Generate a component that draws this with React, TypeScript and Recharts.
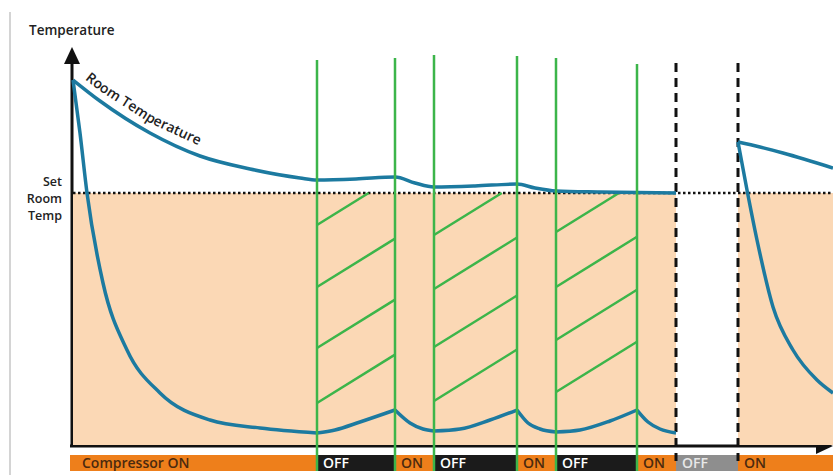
import React from "react";
import {
  ComposedChart,
  Line,
  XAxis,
  YAxis,
  ReferenceArea,
  ReferenceLine,
  Customized,
} from "recharts";

const W = 833;
const H = 475;
// 10 px per unit on both axes; t = 0 / v = 0 is the diagram origin
const X_DOMAIN: [number, number] = [-7.3, 76];
const Y_DOMAIN: [number, number] = [-3.2, 44.3];

const SET_TEMP = 25;
const AXIS_V = -0.2;
const BAR_TOP = -1.2;
const BAR_BOTTOM = -2.8;

// compressor timeline
const phaseStarts = [-0.3, 24.4, 32.2, 36.1, 44.4, 48.3, 56.4, 60.3, 66.5];
const phaseEnds = [24.4, 32.2, 36.1, 44.4, 48.3, 56.4, 60.3, 66.5, 76];
const phaseLabels = ["Compressor ON", "OFF", "ON", "OFF", "ON", "OFF", "ON", "OFF", "ON"];
const phaseKinds = ["on", "off", "on", "off", "on", "off", "on", "stop", "on"];

const switchTimes = [24.4, 32.2, 36.1, 44.4, 48.3, 56.4];
const switchTops = [38.3, 38.5, 38.8, 38.7, 38.5, 37.9];

const offStarts = [24.4, 36.1, 48.3];
const offEnds = [32.2, 44.4, 56.4];
const hatchStarts = [
  [21.8, 15.6, 9.5, 4.0],
  [20.8, 15.4, 9.6, 4.2],
  [21.1, 15.6, 10.3, 5.1],
];
const HATCH_SLOPE = 0.62;

const standbyStart = 60.3;
const standbyEnd = 66.5;
const dashedTop = 38.0;

// room temperature
const roomT = [0, 2.7, 7.7, 12.7, 17.7, 22.7, 24.4, 28.3, 32.2, 34.2, 36.1, 40.2, 44.4, 46.2, 48.3, 52.7, 60.3];
const roomV = [36.3, 34.2, 31.0, 28.7, 27.4, 26.5, 26.3, 26.4, 26.6, 26.0, 25.6, 25.7, 25.9, 25.5, 25.2, 25.1, 25.0];
const roomT2 = [66.5, 68.7, 71.0, 76];
const roomV2 = [30.1, 29.6, 29.0, 27.5];

// supply air temperature, one segment per compressor phase
const supplyT = [
  [0, 0.7, 1.4, 3.0, 5.4, 8.7, 13.7, 18.7, 24.4],
  [24.4, 26.2, 28.7, 32.2],
  [32.2, 33.7, 35.0, 36.1],
  [36.1, 38.7, 41.7, 44.4],
  [44.4, 45.5, 46.7, 48.3],
  [48.3, 50.7, 53.7, 56.4],
  [56.4, 57.5, 58.7, 60.3],
  [66.5, 67.4, 68.4, 70.0, 72.0, 74.4, 76],
];
const supplyV = [
  [36.3, 31.0, 25.0, 16.0, 9.3, 5.0, 2.3, 1.5, 1.0],
  [1.0, 1.3, 2.1, 3.3],
  [3.3, 2.0, 1.4, 1.2],
  [1.2, 1.4, 2.3, 3.3],
  [3.3, 2.0, 1.4, 1.1],
  [1.1, 1.3, 2.2, 3.3],
  [3.3, 2.1, 1.4, 1.0],
  [30.1, 25.3, 20.3, 13.6, 9.3, 6.3, 5.0],
];

const BLUE = "#1c7aa0";
const GREEN = "#3cb54a";
const FILL = "#fbd8b5";
const FONT = "'Open Sans', sans-serif";

const sx = (t: number) => ((t - X_DOMAIN[0]) * W) / (X_DOMAIN[1] - X_DOMAIN[0]);
const sy = (v: number) => ((Y_DOMAIN[1] - v) * H) / (Y_DOMAIN[1] - Y_DOMAIN[0]);

const zip = (ts: number[], vs: number[]) => ts.map((t, i) => ({ t, v: vs[i] }));

const barFill: Record<string, string> = { on: "#ee7f1b", off: "#1b1b1b", stop: "#8e8e8e" };
const barText: Record<string, string> = { on: "#4b2a0f", off: "#ffffff", stop: "#e8e8e8" };

function hatchSegments() {
  const segs: { x1: number; y1: number; x2: number; y2: number }[] = [];
  offStarts.forEach((a, i) => {
    const b = offEnds[i];
    hatchStarts[i].forEach((y0) => {
      const x2 = Math.min(b, a + (SET_TEMP - y0) / HATCH_SLOPE);
      segs.push({ x1: a, y1: y0, x2, y2: y0 + HATCH_SLOPE * (x2 - a) });
    });
  });
  return segs;
}

// axes arrows, titles and the curved "Room Temperature" label
function Annotations() {
  const ox = sx(0);
  const oy = sy(AXIS_V);
  const curve = roomT
    .slice(0, 7)
    .map((t, i) => `${i ? "L" : "M"}${sx(t).toFixed(1)},${(sy(roomV[i]) - 10).toFixed(1)}`)
    .join(" ");
  const txt = { fontFamily: FONT, fontWeight: 600, fill: "#222" };
  return (
    <g>
      <line x1={10} y1={12} x2={10} y2={H} stroke="#d4d4d4" strokeWidth={2} />
      <line x1={ox - 1} y1={oy} x2={ox - 1} y2={62} stroke="#111" strokeWidth={3} />
      <polygon points={`${ox - 1},47 ${ox - 9},64 ${ox + 7},64`} fill="#111" />
      <line x1={sx(-0.3)} y1={oy + 1} x2={W - 14} y2={oy + 1} stroke="#111" strokeWidth={3} />
      <polygon points={`${W},${oy + 1} ${W - 17},${oy - 7} ${W - 17},${oy + 9}`} fill="#111" />
      <text x={29} y={35} fontSize={13.5} {...txt}>Temperature</text>
      <text x={62} y={186} fontSize={12.5} textAnchor="end" {...txt}>Set</text>
      <text x={62} y={203} fontSize={12.5} textAnchor="end" {...txt}>Room</text>
      <text x={62} y={220} fontSize={12.5} textAnchor="end" {...txt}>Temp</text>
      <text x={128} y={312} fontSize={13.5} {...txt}>Temperature supply air</text>
      <text x={765} y={441} fontSize={13} {...txt}>Time</text>
      <path id="roomCurve" d={curve} fill="none" stroke="none" />
      <text fontSize={14} {...txt}>
        <textPath href="#roomCurve" startOffset={15}>Room Temperature</textPath>
      </text>
    </g>
  );
}

export default function App() {
  const hatches = hatchSegments();
  const lineProps = {
    dataKey: "v",
    type: "monotone" as const,
    stroke: BLUE,
    strokeWidth: 3.5,
    dot: false,
    activeDot: false,
    isAnimationActive: false,
  };
  return (
    <div style={{ position: "absolute", left: 0, top: 0, background: "#fff" }}>
      <ComposedChart width={W} height={H} margin={{ top: 0, right: 0, bottom: 0, left: 0 }}>
        <XAxis type="number" dataKey="t" domain={X_DOMAIN} allowDataOverflow hide />
        <YAxis type="number" dataKey="v" domain={Y_DOMAIN} allowDataOverflow hide />

        {/* cooled region below set temperature */}
        <ReferenceArea x1={0} x2={standbyStart} y1={AXIS_V} y2={SET_TEMP} fill={FILL} fillOpacity={1} stroke="none" />
        <ReferenceArea x1={standbyEnd} x2={X_DOMAIN[1]} y1={AXIS_V} y2={SET_TEMP} fill={FILL} fillOpacity={1} stroke="none" />

        {/* compressor state bar */}
        {phaseStarts.map((a, i) => (
          <ReferenceArea
            key={`bar-${i}`}
            x1={a}
            x2={phaseEnds[i]}
            y1={BAR_BOTTOM}
            y2={BAR_TOP}
            fill={barFill[phaseKinds[i]]}
            fillOpacity={1}
            stroke="none"
            label={(p: any) => (
              <text
                x={p.viewBox.x + (i === 0 ? 12 : 6)}
                y={p.viewBox.y + p.viewBox.height / 2 + 5}
                fontSize={14}
                fontFamily={FONT}
                fontWeight={600}
                fill={barText[phaseKinds[i]]}
              >
                {phaseLabels[i]}
              </text>
            )}
          />
        ))}

        <ReferenceLine
          segment={[{ x: 0, y: SET_TEMP }, { x: X_DOMAIN[1], y: SET_TEMP }]}
          stroke="#111"
          strokeWidth={2.5}
          strokeDasharray="2.5 2.5"
        />

        {hatches.map((s, i) => (
          <ReferenceLine
            key={`h-${i}`}
            segment={[{ x: s.x1, y: s.y1 }, { x: s.x2, y: s.y2 }]}
            stroke={GREEN}
            strokeWidth={2.5}
          />
        ))}

        {[standbyStart, standbyEnd].map((t) => (
          <ReferenceLine
            key={`d-${t}`}
            segment={[{ x: t, y: dashedTop }, { x: t, y: -1.8 }]}
            stroke="#111"
            strokeWidth={3}
            strokeDasharray="9 6"
          />
        ))}

        <Customized component={Annotations} />

        <Line data={zip(roomT, roomV)} {...lineProps} />
        <Line data={zip(roomT2, roomV2)} {...lineProps} />
        {supplyT.map((ts, i) => (
          <Line key={`s-${i}`} data={zip(ts, supplyV[i])} {...lineProps} />
        ))}

        {switchTimes.map((t, i) => (
          <ReferenceLine
            key={`g-${i}`}
            segment={[{ x: t, y: switchTops[i] }, { x: t, y: BAR_BOTTOM }]}
            stroke={GREEN}
            strokeWidth={2.5}
          />
        ))}
      </ComposedChart>
    </div>
  );
}
